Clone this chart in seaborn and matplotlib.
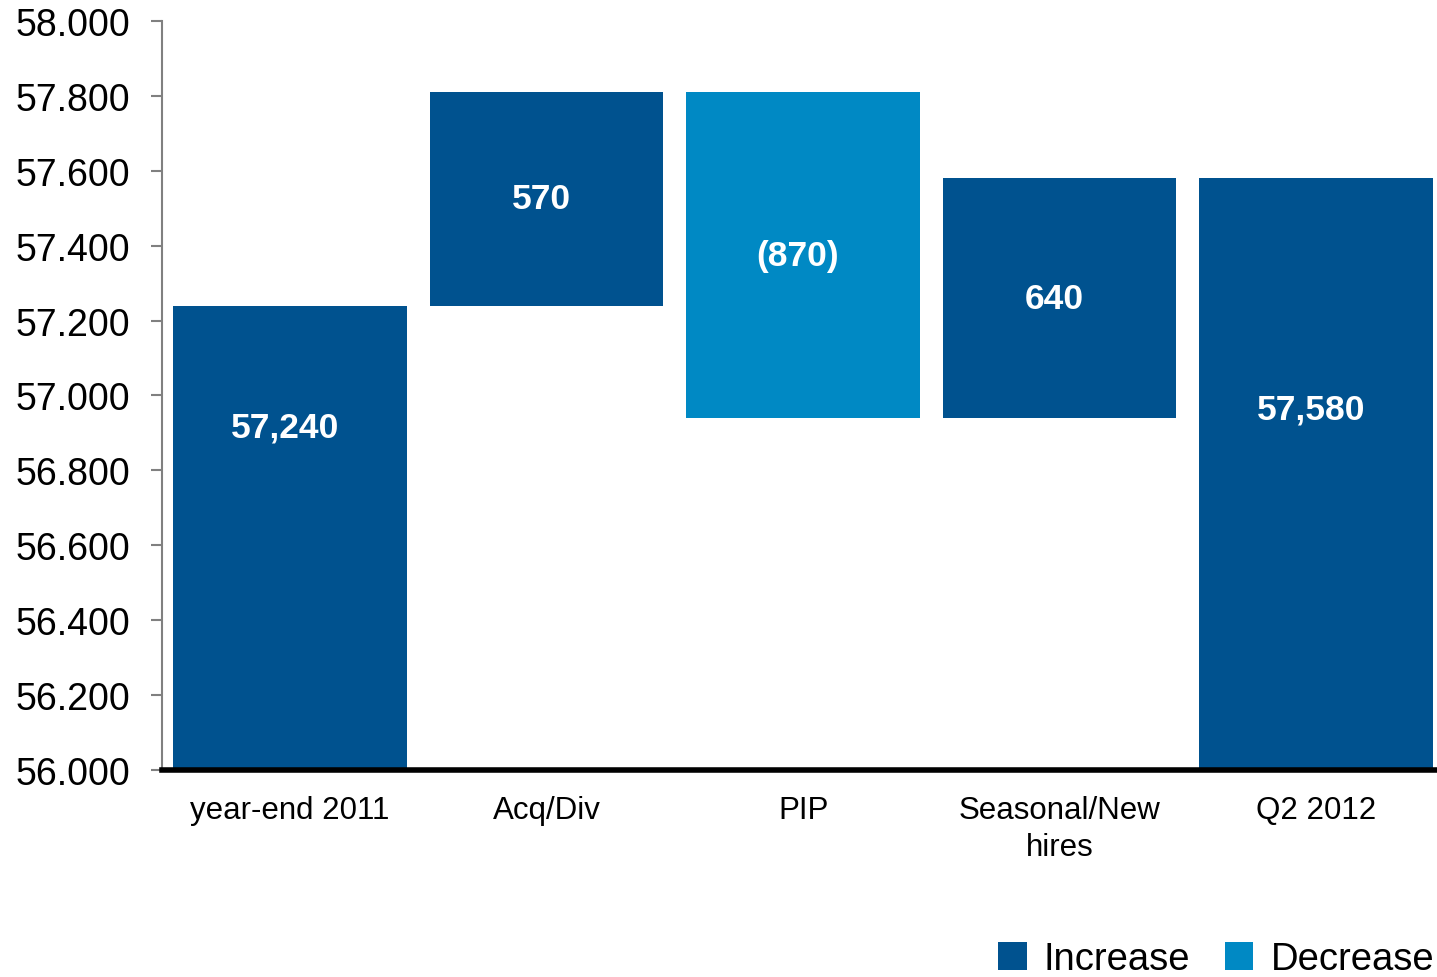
import matplotlib
matplotlib.use("Agg")
import matplotlib.pyplot as plt
from matplotlib.patches import Patch
from matplotlib.ticker import FuncFormatter
import seaborn as sns
import pandas as pd
import numpy as np

# Headcount bridge: opening total, movements, closing total
categories = ["year-end 2011", "Acq/Div", "PIP", "Seasonal/New\nhires", "Q2 2012"]
changes = [57240, 570, -870, 640, 57580]
is_total = [True, False, False, False, True]
value_labels = ["57,240", "570", "(870)", "640", "57,580"]
legend_labels = ["Increase", "Decrease"]

y_min, y_max, y_step = 56000, 58000, 200

DARK = "#00528f"
LIGHT = "#0089c4"

# running floor/ceiling of each bar
bottoms, tops, kinds = [], [], []
level = 0
for v, tot in zip(changes, is_total):
    if tot:
        bottoms.append(y_min)
        tops.append(v)
        level = v
        kinds.append("Increase")
    else:
        start, level = level, level + v
        bottoms.append(min(start, level))
        tops.append(max(start, level))
        kinds.append("Increase" if v > 0 else "Decrease")

df = pd.DataFrame({"category": categories, "top": tops, "kind": kinds})

sns.set_theme(style="white")
plt.rcParams["font.family"] = ["Liberation Sans", "DejaVu Sans"]
plt.rcParams["text.color"] = "black"
plt.rcParams["xtick.color"] = "black"
plt.rcParams["ytick.color"] = "black"

fig = plt.figure(figsize=(14.37, 9.78), dpi=100)
ax = fig.add_axes([0.1126, 0.2117, 0.8925, 0.7658])

sns.barplot(data=df, x="category", y="top", hue="kind",
            hue_order=legend_labels, palette=[DARK, LIGHT],
            dodge=False, width=0.91, legend=False, ax=ax,
            linewidth=0, saturation=1)

# turn each bar into a floating segment between its floor and ceiling
for p in ax.patches:
    if p.get_height() == 0 or np.isnan(p.get_height()):
        continue
    i = int(round(p.get_x() + p.get_width() / 2))
    p.set_y(bottoms[i])
    p.set_height(tops[i] - bottoms[i])

ax.set_xlim(-0.5, len(categories) - 0.5)
ax.set_ylim(y_min, y_max)
ax.set_yticks(np.arange(y_min, y_max + 1, y_step))
ax.yaxis.set_major_formatter(
    FuncFormatter(lambda v, _: f"{v / 1000:.3f}"))
ax.set_xlabel("")
ax.set_ylabel("")

ax.tick_params(axis="y", which="major", length=8, width=1.5,
               color="#808080", labelcolor="black", labelsize=27,
               pad=15, left=True)
ax.tick_params(axis="x", length=0, labelsize=22.5, pad=18,
               labelcolor="black")
for lbl in ax.get_xticklabels():
    lbl.set_linespacing(1.3)

for side in ["top", "right"]:
    ax.spines[side].set_visible(False)
ax.spines["left"].set_color("#808080")
ax.spines["left"].set_linewidth(1.5)
ax.spines["bottom"].set_color("black")
ax.spines["bottom"].set_linewidth(4)
ax.spines["bottom"].set_zorder(5)

# value labels inside bars
total_label_y = {0: 56915, 4: 56965}
for i, txt in enumerate(value_labels):
    y = total_label_y.get(i, (bottoms[i] + tops[i]) / 2)
    ax.text(i - 0.02, y, txt, ha="center", va="center", color="white",
            fontsize=25.5, fontweight="bold")

handles = [Patch(facecolor=DARK, edgecolor="none"),
           Patch(facecolor=LIGHT, edgecolor="none")]
fig.legend(handles, legend_labels, loc="lower right",
           bbox_to_anchor=(1.022, -0.035), ncol=2, frameon=False,
           fontsize=27.5, handlelength=0.75, handleheight=0.75,
           handletextpad=0.45, columnspacing=0.9)

fig.savefig("out.png", dpi=100)
